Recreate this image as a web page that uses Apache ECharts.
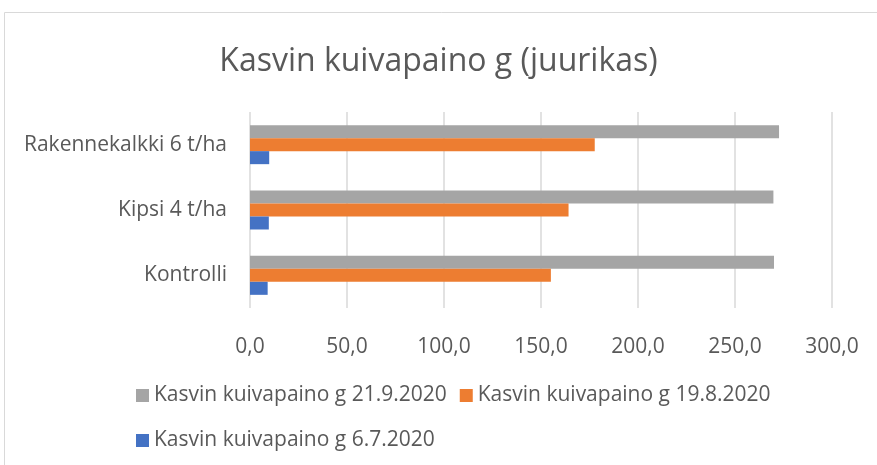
<!DOCTYPE html>
<html>
<head>
<meta charset="utf-8">
<script src="https://cdn.jsdelivr.net/npm/echarts@6/dist/echarts.min.js"></script>
<style>
  html, body { margin: 0; padding: 0; background: #fff; }
  #chart { width: 877px; height: 465px; }
</style>
</head>
<body>
<div id="chart"></div>
<script>
var categories = ['Kontrolli', 'Kipsi 4 t/ha', 'Rakennekalkki 6 t/ha'];
var seriesNames = ['Kasvin kuivapaino g 6.7.2020', 'Kasvin kuivapaino g 19.8.2020', 'Kasvin kuivapaino g 21.9.2020'];
var values_0607 = [9.1, 9.7, 9.9];
var values_1908 = [155.1, 164.2, 177.7];
var values_2109 = [270.1, 269.8, 272.7];
var colors = ['#4472C4', '#ED7D31', '#A5A5A5'];

var chart = echarts.init(document.getElementById('chart'));
var font = 'Open Sans';
var txt = '#595959';

function bar(i, data) {
    return {
        name: seriesNames[i],
        type: 'bar',
        data: data,
        barWidth: 13,
        barGap: '0%',
        itemStyle: { color: colors[i] }
    };
}

var option = {
    animation: false,
    textStyle: { fontFamily: font },
    title: {
        text: 'Kasvin kuivapaino g (juurikas)',
        left: 'center',
        top: 41,
        textStyle: { fontFamily: font, fontSize: 32, fontWeight: 'normal', color: txt }
    },
    graphic: [{
        type: 'rect',
        shape: { x: 4.5, y: 12.5, width: 900, height: 500 },
        style: { fill: 'none', stroke: '#D9D9D9', lineWidth: 1 },
        silent: true
    }],
    legend: [{
        data: [seriesNames[2], seriesNames[1]],
        left: 131,
        top: 380,
        icon: 'rect',
        itemWidth: 13,
        itemHeight: 13,
        itemGap: 13,
        textStyle: { fontFamily: font, fontSize: 21, color: txt }
    }, {
        data: [seriesNames[0]],
        left: 131,
        top: 425,
        icon: 'rect',
        itemWidth: 13,
        itemHeight: 13,
        textStyle: { fontFamily: font, fontSize: 21, color: txt }
    }],
    grid: { left: 250, right: 45, top: 112, bottom: 157 },
    xAxis: {
        type: 'value',
        min: 0,
        max: 300,
        interval: 50,
        axisLine: { show: false },
        axisTick: { show: false },
        splitLine: { lineStyle: { color: '#D9D9D9', width: 1.5 } },
        axisLabel: {
            fontFamily: font, fontSize: 21, color: txt, margin: 29,
            formatter: function (v) { return v.toFixed(1).replace('.', ','); }
        }
    },
    yAxis: {
        type: 'category',
        data: categories,
        axisLine: { show: false },
        axisTick: { show: false },
        axisLabel: { fontFamily: font, fontSize: 21, color: txt, margin: 23 }
    },
    series: [bar(2, values_2109), bar(1, values_1908), bar(0, values_0607)]
};
chart.setOption(option);
window.addEventListener('resize', function () {
    chart.resize();
});
</script>
</body>
</html>
